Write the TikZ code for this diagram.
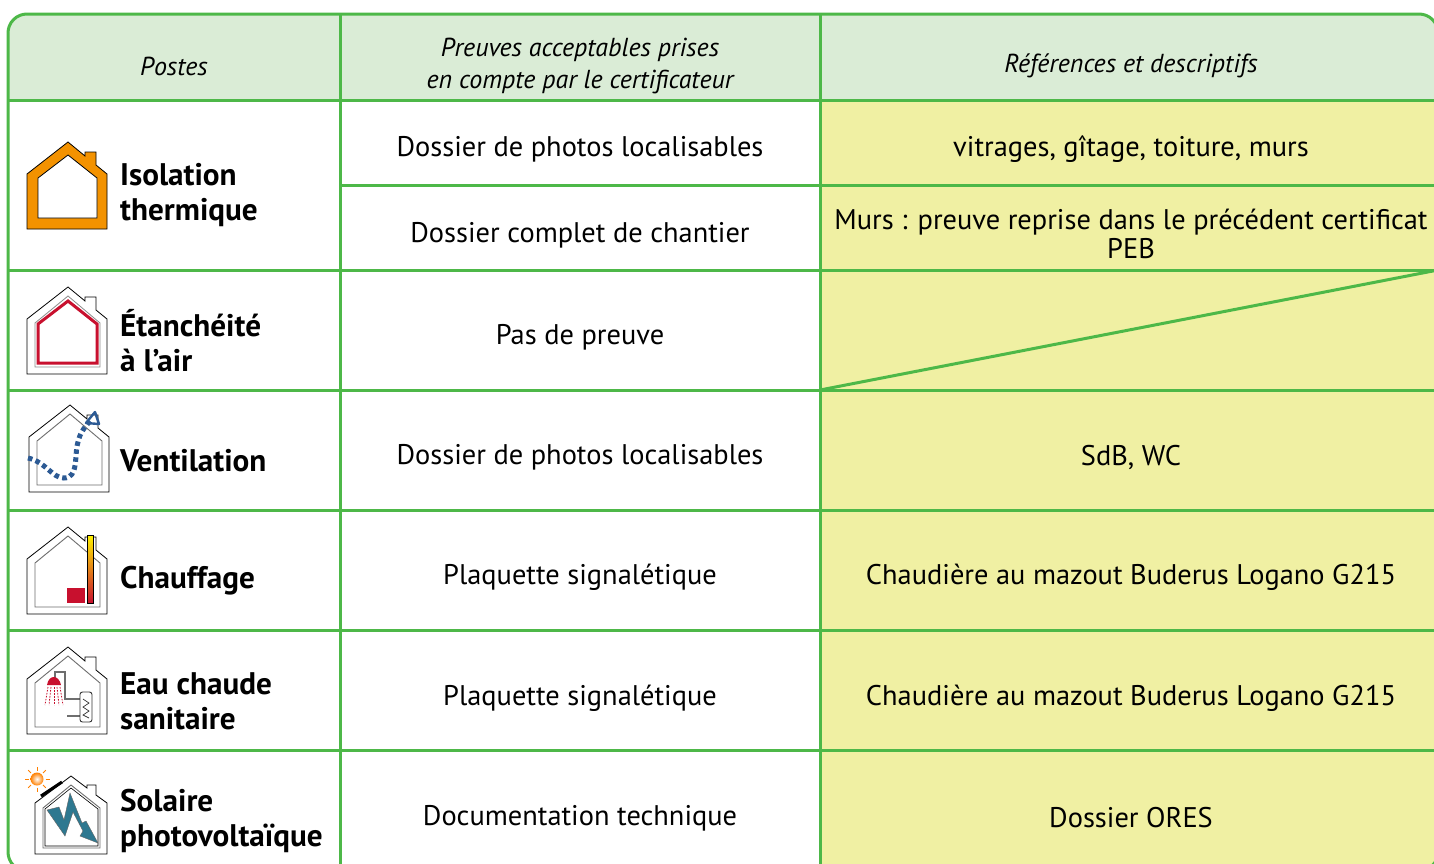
\documentclass[tikz,border=0pt]{standalone}
\usepackage{fontspec}
\setmainfont{PT Sans}
\definecolor{tgreen}{RGB}{77,184,72}
\definecolor{thead}{RGB}{218,236,214}
\definecolor{tyellow}{RGB}{240,240,163}
\definecolor{iorange}{RGB}{243,146,0}
\definecolor{ired}{RGB}{200,16,46}
\definecolor{iblue}{RGB}{44,90,148}
\definecolor{iteal}{RGB}{46,120,144}
\definecolor{igray}{RGB}{110,110,110}
\tikzset{
 pics/houseshape/.style={code={\path[pic actions] (27,0) -- (27,-55) -- (68,-87) -- (85,-73) -- (85,-77) -- (96,-77) -- (96,-64) -- (107,-55) -- (107,0) -- cycle;}},
 pics/houseinner/.style={code={\path[pic actions] (35,-7) -- (35,-51) -- (68,-78) -- (100,-51) -- (100,-7) -- cycle;}}
}
\begin{document}
\begin{tikzpicture}[x=1pt,y=-1pt,
 gridline/.style={draw=tgreen,line width=3pt},
 body/.style={font=\fontsize{28.4}{30}\selectfont, align=center, inner sep=0pt},
 headtxt/.style={font=\itshape\fontsize{26}{32}\selectfont, align=center, inner sep=0pt},
 lab/.style={font=\bfseries\fontsize{31.2}{35}\selectfont, align=left, anchor=west, inner sep=0pt},
 hout/.style={draw=black, line width=0.8pt, fill=white},
 hin/.style={draw=igray, line width=0.9pt}]
\useasboundingbox (0,0) rectangle (1434,863);
\clip (0,0) rectangle (1434,863);
% fills
\begin{scope}
\clip[rounded corners=19pt] (8,14) rectangle (1438,871);
\fill[white] (8,14) rectangle (1438,871);
\fill[thead] (8,14) rectangle (1438,100);
\fill[tyellow] (820,100) rectangle (1438,871);
\end{scope}
% grid
\draw[gridline] (8,100) -- (1438,100);
\draw[gridline] (340,185) -- (1438,185);
\foreach \yy in {270,390,510,630,750} \draw[gridline] (8,\yy) -- (1438,\yy);
\draw[gridline] (340,14) -- (340,871);
\draw[gridline] (820,14) -- (820,871);
\draw[gridline] (820,390) -- (1438,270);
\draw[gridline, rounded corners=19pt] (8,14) rectangle (1438,871);
% header
\node[headtxt] (h1) at (174,66) {Postes};
\node[headtxt] (h2) at (580,66) {Preuves acceptables prises\\en compte par le certificateur};
\node[headtxt] (h3) at (1131,66) {Références et descriptifs};
% column 2
\node[body] (b1) at (580,149) {Dossier de photos localisables};
\node[body] (b2) at (580,235) {Dossier complet de chantier};
\node[body] (b3) at (580,337) {Pas de preuve};
\node[body] (b4) at (580,457) {Dossier de photos localisables};
\node[body] (b5) at (580,577) {Plaquette signalétique};
\node[body] (b6) at (580,698) {Plaquette signalétique};
\node[body] (b7) at (580,818) {Documentation technique};
% column 3
\node[body] (c1) at (1131,149) {vitrages, gîtage, toiture, murs};
\node[body, font=\fontsize{28.4}{29}\selectfont] (c2) at (1131,234) {Murs : preuve reprise dans le précédent certificat\\PEB};
\node[body] (c4) at (1131,457) {SdB, WC};
\node[body] (c5) at (1131,577) {Chaudière au mazout Buderus Logano G215};
\node[body] (c6) at (1131,698) {Chaudière au mazout Buderus Logano G215};
\node[body] (c7) at (1131,818) {Dossier ORES};
% column 1 labels
\node[lab] (l1) at (120,195) {Isolation\\thermique};
\node[lab] (l2) at (120,341) {Étanchéité\\à l’air};
\node[lab] (l3) at (120,461) {Ventilation};
\node[lab] (l4) at (120,581) {Chauffage};
\node[lab] (l5) at (120,701) {Eau chaude\\sanitaire};
\node[lab] (l6) at (120,821) {Solaire\\photovoltaïque};
% icon 1: isolation
\pic[draw=black, line width=0.8pt, fill=iorange] at (0,229) {houseshape};
\begin{scope}[shift={(0,229)}]
\draw[black, line width=0.8pt, fill=white] (38,-11) -- (38,-51) -- (68,-74) -- (97,-51) -- (97,-11) -- cycle;
\end{scope}
% icon 2: etancheite
\pic[hout] at (0,374) {houseshape};
\pic[draw=black!45, line width=0.8pt] at (0,374) {houseinner};
\begin{scope}[shift={(0,374)}]
\draw[ired, line width=3pt, line join=miter] (38,-11) -- (38,-50) -- (68,-73) -- (97,-50) -- (97,-11) -- cycle;
\end{scope}
% icon 3: ventilation
\pic[hout] at (2,492) {houseshape};
\pic[hin] at (2,492) {houseinner};
\draw[iblue, line width=5pt, dash pattern=on 4.5pt off 3.5pt] (28,458) .. controls (46,462) and (52,478) .. (64,478) .. controls (79,478) and (74,455) .. (78,442) .. controls (80,433) and (84,428) .. (90,421);
\draw[iblue, line width=2.4pt, line join=round] (95,412) -- (99,424) -- (86,423) -- cycle;
% icon 4: chauffage
\pic[hout] at (0,614) {houseshape};
\pic[hin] at (0,614) {houseinner};
\shade[top color=yellow!90!orange, bottom color=ired] (87,535) rectangle (93,603);
\draw[black, line width=0.6pt] (87,535) rectangle (93,603);
\fill[ired] (67,588) rectangle (85,603);
% icon 5: eau chaude
\pic[hout] at (0,734) {houseshape};
\pic[hin] at (0,734) {houseinner};
\draw[igray, line width=1.1pt] (55,678) -- (55,672) -- (65,672) -- (65,699) -- (80,699);
\draw[igray, line width=1.1pt] (67,716) -- (80,716);
\draw[black!80, line width=0.9pt, rounded corners=2.5pt] (80,692) rectangle (92,722);
\draw[black!80, line width=0.7pt] (83,699) -- (89,703) -- (83,707) -- (89,711) -- (83,715) -- (89,718);
\fill[ired] (47,685) .. controls (48,679) and (51,677) .. (54,677) .. controls (57,677) and (60,680) .. (61,685) -- cycle;
\foreach \xa/\xb in {48/45,51/49,54/54,57/59,60/63}
  \draw[ired, line width=0.8pt, dash pattern=on 1.6pt off 1.4pt] (\xa,687) -- (\xb,705);
% icon 6: solaire
\begin{scope}[shift={(0,854)}]
\draw[hout] (35,0) -- (35,-51) -- (71,-78) -- (87,-66) -- (87,-69) -- (96,-69) -- (96,-59) -- (107,-51) -- (107,0) -- cycle;
\draw[hin] (43,-6) -- (43,-46) -- (71,-69) -- (100,-46) -- (100,-6) -- cycle;
\draw[black, line width=0.6pt] (45,-8) -- (45,-45) -- (71,-66) -- (98,-45) -- (98,-8) -- cycle;
\end{scope}
\draw[black, line width=3pt] (41,796) -- (62,782);
\fill[iteal, draw=black!60, line width=0.4pt] (47,810) -- (59,807) -- (64,820) -- (70,793) -- (82,823) -- (86,821) -- (98,843) -- (80,836) -- (83,831) -- (73,812) -- (65,836) -- cycle;
\shade[inner color=white, outer color=orange] (37,779) circle (6.5pt);
\foreach \a in {0,45,...,315}
  \draw[orange, line width=1pt] (37,779) ++(\a:8.5) -- ++(\a:4);
\end{tikzpicture}
\end{document}
